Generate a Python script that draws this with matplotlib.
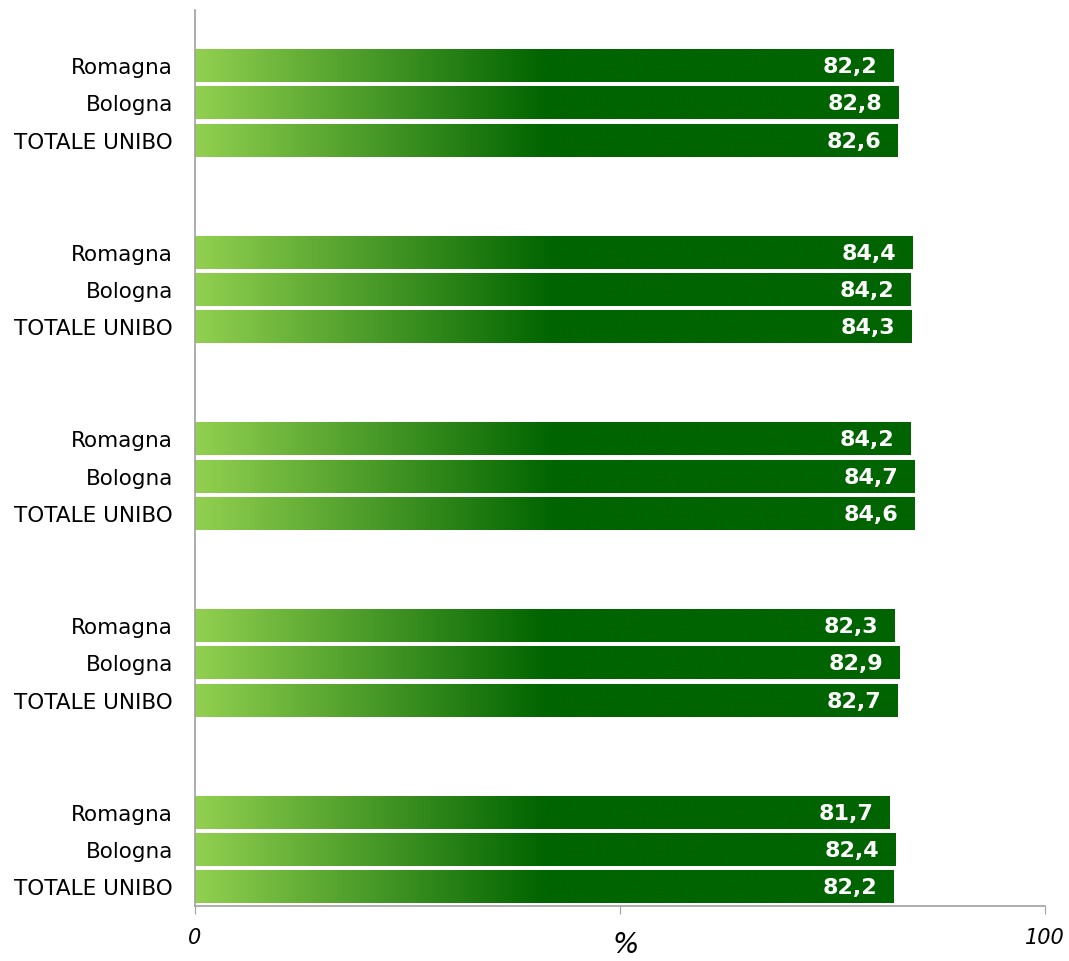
import numpy as np
import matplotlib.pyplot as plt
from matplotlib.colors import LinearSegmentedColormap

# ---------------- data (top to bottom) ----------------
sedi = ['Romagna', 'Bologna', 'TOTALE UNIBO']
valori = [
    [82.2, 82.8, 82.6],
    [84.4, 84.2, 84.3],
    [84.2, 84.7, 84.6],
    [82.3, 82.9, 82.7],
    [81.7, 82.4, 82.2],
]
x_ticks = [0, 50, 100]
x_ticklabels = ['0', '', '100']

plt.rcParams['font.family'] = ['DejaVu Sans']

cmap = LinearSegmentedColormap.from_list(
    'verde', [(0.0, '#92d050'), (0.5, '#006400'), (1.0, '#006400')])
grad = np.linspace(0, 1, 256).reshape(1, -1)

fig = plt.figure(figsize=(10.69, 9.61), dpi=100)
ax = fig.add_axes([195 / 1069, 1 - 906 / 961, 850 / 1069, 896 / 961])

bar_h = 0.86
pos, labels = [], []
for g, gruppo in enumerate(valori):
    for i, v in enumerate(gruppo):
        y = 1 + 5 * g + i
        pos.append(y)
        labels.append(sedi[i])
        ax.imshow(grad, cmap=cmap, aspect='auto', interpolation='bicubic',
                  extent=[0, v, y + bar_h / 2, y - bar_h / 2], zorder=2)
        ax.text(v - 1.9, y + 0.03, f'{v:.1f}'.replace('.', ','), color='white',
                fontsize=16, fontweight='bold', ha='right', va='center', zorder=3)

ax.set_xlim(0, 100)
ax.set_ylim(23.5, -0.5)
ax.set_yticks(pos)
ax.set_yticklabels(labels, fontsize=15.5)
ax.tick_params(axis='y', length=0, pad=16)
ax.set_xticks(x_ticks)
ax.set_xticklabels(x_ticklabels, fontsize=15, style='italic')
ax.tick_params(axis='x', length=6, color='#a0a0a0', pad=10)
ax.set_xlabel('%', fontsize=20, style='italic')
ax.xaxis.set_label_coords(0.507, -0.028)

for s in ['top', 'right']:
    ax.spines[s].set_visible(False)
for s in ['left', 'bottom']:
    ax.spines[s].set_color('#a0a0a0')
    ax.spines[s].set_linewidth(1.2)

fig.savefig('out.png', dpi=100)
